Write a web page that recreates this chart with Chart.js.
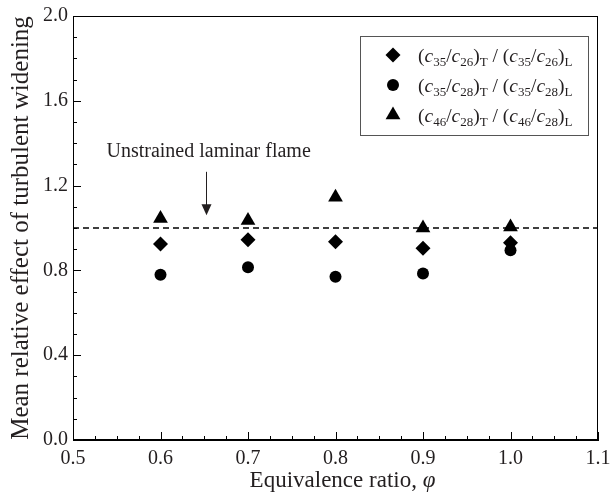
<!DOCTYPE html>
<html>
<head>
<meta charset="utf-8">
<script src="https://cdn.jsdelivr.net/npm/chart.js@4.4.1/dist/chart.umd.min.js"></script>
<style>
  html, body { margin: 0; padding: 0; background: #fff; }
</style>
</head>
<body>
<canvas id="chart" width="611" height="502"></canvas>
<script>
// Equivalence ratio (x) and the three species-ratio series
const phi = [0.6, 0.7, 0.8, 0.9, 1.0];
const ratio35_26 = [0.925, 0.945, 0.935, 0.905, 0.93];
const ratio35_28 = [0.78, 0.815, 0.77, 0.785, 0.895];
const ratio46_28 = [1.045, 1.035, 1.145, 1.0, 1.005];
const seriesSpecies = [['35', '26'], ['35', '28'], ['46', '28']];

// Unstrained laminar flame reference line + arrow note
const laminarX = [0.5, 1.1];
const laminarY = [1.0, 1.0];
const noteText = 'Unstrained laminar flame';
const notePhi = [0.655, 0.6525]; // text centre, arrow
const noteY = [1.358, 1.265, 1.06]; // text centre, arrow tail, arrow head

const xTickValues = [0.5, 0.6, 0.7, 0.8, 0.9, 1.0, 1.1];
const yTickValues = [0.0, 0.4, 0.8, 1.2, 1.6, 2.0];
const xTitle = ['Equivalence ratio, ', 'φ'];

const SERIF = "'Liberation Serif', 'DejaVu Serif', serif";
const INK = '#231f20';

function pts(ys) {
    return phi.map((x, i) => ({ x: x, y: ys[i] }));
}

// draws a tiny rich-text run: parts = [[text, 'n'|'i'|'s']]
function drawRich(ctx, parts, x, y) {
    parts.forEach(([t, kind]) => {
        if (kind === 's') {
            ctx.font = '13px ' + SERIF;
            ctx.fillText(t, x, y + 4);
        } else {
            ctx.font = (kind === 'i' ? 'italic ' : '') + '19.5px ' + SERIF;
            ctx.fillText(t, x, y);
        }
        x += ctx.measureText(t).width;
    });
}

function drawMarker(ctx, style, x, y) {
    ctx.beginPath();
    if (style === 'circle') {
        ctx.arc(x, y, 6, 0, Math.PI * 2);
    } else if (style === 'rectRot') {
        ctx.moveTo(x, y - 7.5); ctx.lineTo(x + 7.5, y);
        ctx.lineTo(x, y + 7.5); ctx.lineTo(x - 7.5, y);
    } else {
        ctx.moveTo(x, y - 8.5); ctx.lineTo(x + 7.4, y + 4.25);
        ctx.lineTo(x - 7.4, y + 4.25);
    }
    ctx.closePath();
    ctx.fill();
}

const framePlugin = {
    id: 'frame',
    afterDraw(chart) {
        const { ctx, chartArea: a, scales } = chart;
        const xs = scales.x, ys = scales.y;
        ctx.save();
        ctx.strokeStyle = '#000';
        ctx.lineWidth = 1;
        ctx.strokeRect(a.left + 0.5, a.top + 0.5, a.right - a.left - 1, a.bottom - a.top - 1);

        // inward ticks, majors and minors
        ctx.beginPath();
        for (let v = 0.5; v <= 1.1001; v += 0.025) {
            const px = Math.round(xs.getPixelForValue(v)) + 0.5;
            const major = Math.abs(v * 10 - Math.round(v * 10)) < 1e-6;
            ctx.moveTo(px, a.bottom);
            ctx.lineTo(px, a.bottom - (major ? 8 : 4));
        }
        for (let v = 0; v <= 2.0001; v += 0.1) {
            const py = Math.round(ys.getPixelForValue(v)) + 0.5;
            const major = Math.abs(v / 0.4 - Math.round(v / 0.4)) < 1e-6;
            ctx.moveTo(a.left, py);
            ctx.lineTo(a.left + (major ? 8 : 4), py);
        }
        ctx.stroke();

        // x axis title with italic phi
        ctx.fillStyle = INK;
        ctx.textBaseline = 'middle';
        ctx.textAlign = 'left';
        ctx.font = '23px ' + SERIF;
        const w1 = ctx.measureText(xTitle[0]).width;
        ctx.font = 'italic 23px ' + SERIF;
        const w2 = ctx.measureText(xTitle[1]).width;
        let tx = (a.left + a.right) / 2 + 7 - (w1 + w2) / 2;
        ctx.font = '23px ' + SERIF;
        ctx.fillText(xTitle[0], tx, 481);
        ctx.font = 'italic 23px ' + SERIF;
        ctx.fillText(xTitle[1], tx + w1, 481);

        // note and arrow
        ctx.font = '20px ' + SERIF;
        ctx.textAlign = 'center';
        ctx.fillText(noteText, xs.getPixelForValue(notePhi[0]), ys.getPixelForValue(noteY[0]));
        const nx = Math.round(xs.getPixelForValue(notePhi[1])) + 0.5;
        const tail = ys.getPixelForValue(noteY[1]);
        const head = ys.getPixelForValue(noteY[2]);
        ctx.beginPath();
        ctx.moveTo(nx, tail);
        ctx.lineTo(nx, head - 8);
        ctx.strokeStyle = INK;
        ctx.stroke();
        ctx.beginPath();
        ctx.moveTo(nx - 5, head - 11);
        ctx.lineTo(nx + 5, head - 11);
        ctx.lineTo(nx, head);
        ctx.closePath();
        ctx.fill();

        // legend box
        const lx = 360, ly = 36, lw = 228, lh = 99;
        ctx.strokeStyle = '#555';
        ctx.strokeRect(lx + 0.5, ly + 0.5, lw, lh);
        ctx.textAlign = 'left';
        ctx.textBaseline = 'alphabetic';
        chart.data.datasets.filter(ds => ds.species).forEach((ds, i) => {
            const rowY = 55 + i * 30;
            ctx.fillStyle = '#000';
            drawMarker(ctx, ds.pointStyle, 393, rowY);
            ctx.fillStyle = INK;
            const [a1, b1] = ds.species;
            drawRich(ctx, [
                ['(', 'n'], ['c', 'i'], [a1, 's'], ['/', 'n'], ['c', 'i'], [b1, 's'], [')', 'n'], ['T', 's'],
                [' / (', 'n'], ['c', 'i'], [a1, 's'], ['/', 'n'], ['c', 'i'], [b1, 's'], [')', 'n'], ['L', 's']
            ], 418, rowY + 7);
        });
        ctx.restore();
    }
};

function initChart() {
    const ctx = document.getElementById('chart').getContext('2d');
    Chart.defaults.font.family = SERIF;
    Chart.defaults.color = INK;

    const markers = ['rectRot', 'circle', 'triangle'];
    const radii = [7.5, 6, 8.5];
    const series = [ratio35_26, ratio35_28, ratio46_28];

    const datasets = series.map((ys, i) => ({
        label: seriesSpecies[i].join('/'),
        species: seriesSpecies[i],
        data: pts(ys),
        pointStyle: markers[i],
        pointRadius: radii[i],
        pointBackgroundColor: '#000',
        pointBorderWidth: 0,
        showLine: false
    }));
    datasets.unshift({
        label: 'laminar',
        data: laminarX.map((x, i) => ({ x: x, y: laminarY[i] })),
        showLine: true,
        borderColor: '#000',
        borderWidth: 1.3,
        borderDash: [6, 4],
        pointRadius: 0
    });

    new Chart(ctx, {
        type: 'scatter',
        data: { datasets: datasets },
        options: {
            responsive: false,
            animation: false,
            layout: { padding: { top: 16, right: 13, left: 0, bottom: 0 } },
            plugins: { legend: { display: false }, tooltip: { enabled: false } },
            scales: {
                x: {
                    type: 'linear',
                    min: 0.5, max: 1.1,
                    afterBuildTicks: s => { s.ticks = xTickValues.map(v => ({ value: v })); },
                    afterFit: s => { s.height = 62; s.paddingLeft = 0; s.paddingRight = 0; },
                    grid: { drawOnChartArea: false, drawTicks: false },
                    border: { color: '#000' },
                    ticks: {
                        padding: 7,
                        color: INK,
                        font: { size: 20, family: SERIF },
                        callback: v => v.toFixed(1)
                    },
                    title: { display: false }
                },
                y: {
                    min: 0, max: 2,
                    afterBuildTicks: s => { s.ticks = yTickValues.map(v => ({ value: v })); },
                    afterFit: s => { s.width = 73; s.paddingTop = 0; s.paddingBottom = 0; },
                    grid: { drawOnChartArea: false, drawTicks: false },
                    border: { color: '#000' },
                    ticks: {
                        padding: 5,
                        color: INK,
                        font: { size: 20, family: SERIF },
                        callback: v => v.toFixed(1)
                    },
                    title: {
                        display: true,
                        text: 'Mean relative effect of turbulent widening',
                        color: INK,
                        font: { size: 25, family: SERIF },
                        padding: { top: 6, bottom: 0 }
                    }
                }
            }
        },
        plugins: [framePlugin]
    });
}

document.addEventListener('DOMContentLoaded', initChart);
</script>
</body>
</html>
